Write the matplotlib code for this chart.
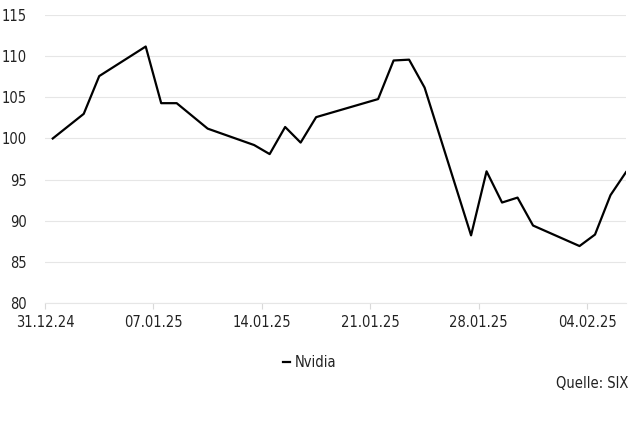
import matplotlib.pyplot as plt
import matplotlib.dates as mdates
import pandas as pd

plt.rcParams['font.family'] = ['DejaVu Sans']
plt.rcParams['font.stretch'] = 'condensed'

# trading days (market closed 01.01, 09.01, 20.01)
dates = ['2024-12-31', '2025-01-02', '2025-01-03', '2025-01-06', '2025-01-07',
         '2025-01-08', '2025-01-10', '2025-01-13', '2025-01-14', '2025-01-15',
         '2025-01-16', '2025-01-17', '2025-01-21', '2025-01-22', '2025-01-23',
         '2025-01-24', '2025-01-27', '2025-01-28', '2025-01-29', '2025-01-30',
         '2025-01-31', '2025-02-03', '2025-02-04', '2025-02-05', '2025-02-06']
nvidia = [100.0, 103.0, 107.6, 111.2, 104.3,
          104.3, 101.2, 99.2, 98.1, 101.4,
          99.5, 102.6, 104.8, 109.5, 109.6,
          106.2, 88.2, 96.0, 92.2, 92.8,
          89.4, 86.9, 88.3, 93.1, 95.9]
tick_dates = ['2024-12-31', '2025-01-07', '2025-01-14', '2025-01-21',
              '2025-01-28', '2025-02-04']
yticks = [80, 85, 90, 95, 100, 105, 110, 115]

x = pd.to_datetime(dates) + pd.Timedelta(hours=12)

fig = plt.figure(figsize=(6.32, 4.21), dpi=100)
ax = fig.add_axes([0.0712, 0.281, 0.9193, 0.6826])

ax.plot(x, nvidia, color='black', linewidth=1.6, label='Nvidia')

ax.set_ylim(80, 115)
ax.set_yticks(yticks)
ax.set_xlim(pd.Timestamp('2024-12-31'), pd.Timestamp('2025-02-06 12:00'))
ax.set_xticks(pd.to_datetime(tick_dates))
ax.xaxis.set_major_formatter(mdates.DateFormatter('%d.%m.%y'))

ax.grid(axis='y', color='#e6e6e6', linewidth=0.8)
ax.set_axisbelow(True)
for s in ['top', 'right', 'left']:
    ax.spines[s].set_visible(False)
ax.spines['bottom'].set_color('#e6e6e6')
ax.tick_params(axis='y', length=0, pad=13, labelsize=10.5, colors='#222222')
ax.tick_params(axis='x', length=4, width=0.8, color='#d9d9d9', pad=5,
               labelsize=10.5, labelcolor='#222222')

fig.legend(loc='center', bbox_to_anchor=(0.49, 0.138), frameon=False,
           handlelength=0.5, handletextpad=0.35, fontsize=10.5,
           labelcolor='#222222')
fig.text(0.995, 0.088, 'Quelle: SIX', ha='right', va='center',
         fontsize=10.5, color='#222222')

fig.savefig('out.png', dpi=100)
